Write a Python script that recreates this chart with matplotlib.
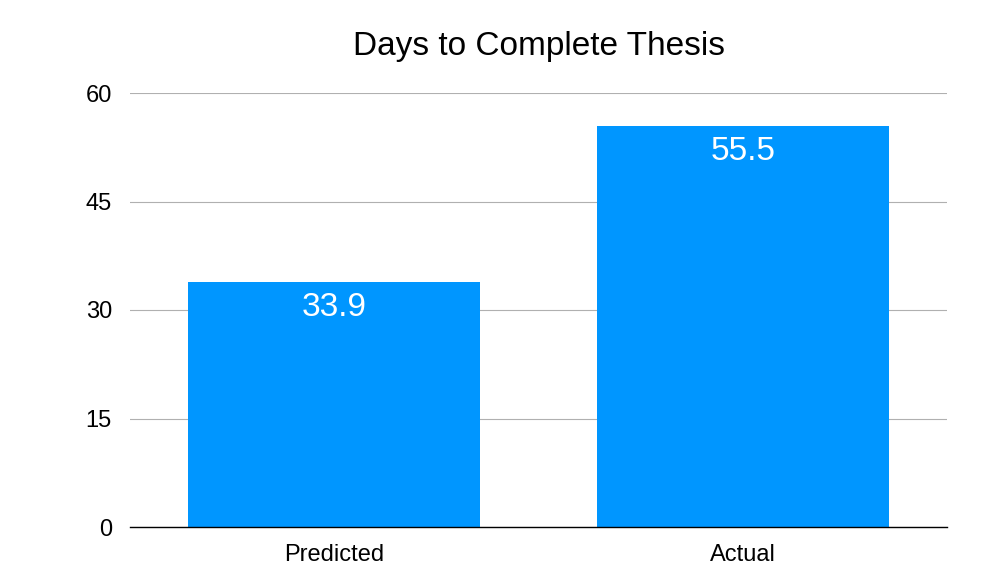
import matplotlib.pyplot as plt

categories = ['Predicted', 'Actual']
days = [33.9, 55.5]
yticks = [0, 15, 30, 45, 60]

plt.rcParams['font.family'] = ['Liberation Sans', 'DejaVu Sans']

fig = plt.figure(figsize=(10.02, 5.85), dpi=100)
ax = fig.add_axes([130 / 1002, 58 / 585, 817 / 1002, 434 / 585])

bars = ax.bar(range(len(categories)), days, width=0.714, color='#0096FF', zorder=3)
for b, v in zip(bars, days):
    ax.annotate(f'{v}', (b.get_x() + b.get_width() / 2, v), xytext=(0, -7.5),
                textcoords='offset points', ha='center', va='top',
                color='white', fontsize=24, zorder=4)

ax.set_xlim(-0.5, 1.5)
ax.set_ylim(0, 60)
ax.set_yticks(yticks)
ax.set_xticks(range(len(categories)))
ax.set_xticklabels(categories)
ax.tick_params(length=0, labelsize=17, pad=12.5)
ax.tick_params(axis='y', pad=13)
ax.grid(axis='y', color='#b0b0b0', linewidth=0.8, zorder=0)
for s in ['top', 'right', 'left']:
    ax.spines[s].set_visible(False)
ax.spines['bottom'].set_color('black')
ax.spines['bottom'].set_linewidth(1)
ax.spines['bottom'].set_zorder(5)

fig.text(539 / 1002, 1 - 46 / 585, 'Days to Complete Thesis', ha='center', va='center', fontsize=24)

fig.savefig('out.png', dpi=100)
